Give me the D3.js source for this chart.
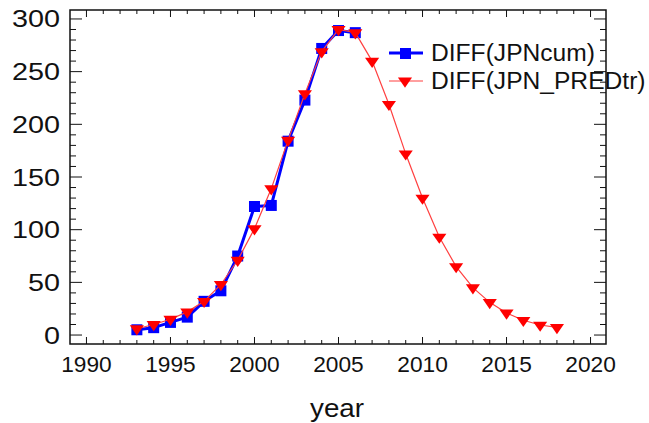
<!DOCTYPE html>
<html>
<head>
<meta charset="utf-8">
<script src="https://cdn.jsdelivr.net/npm/d3@7"></script>
<style>
  html, body { margin: 0; padding: 0; background: #fff; }
  svg { display: block; }
  text { font-family: "Liberation Sans", Arial, sans-serif; fill: #111; }
</style>
</head>
<body>
<svg id="chart" width="649" height="423"></svg>
<script>
// DIFF(JPNcum) vs DIFF(JPN_PREDtr) por año

const obsYears = [1993, 1994, 1995, 1996, 1997, 1998, 1999, 2000, 2001, 2002, 2003, 2004, 2005, 2006];
const obsValues = [5, 7, 12, 17, 32, 42, 75, 122, 123, 184, 223, 272, 289, 287];

const predYears = [1993, 1994, 1995, 1996, 1997, 1998, 1999, 2000, 2001, 2002, 2003, 2004, 2005,
  2006, 2007, 2008, 2009, 2010, 2011, 2012, 2013, 2014, 2015, 2016, 2017, 2018];
const predValues = [6, 10, 15, 22, 32, 48, 71, 101, 139, 185, 229, 269, 290,
  287, 260, 219, 172, 130, 93, 65, 45, 31, 21, 14, 9.5, 7.3];

const xTicks = [1990, 1995, 2000, 2005, 2010, 2015, 2020];
const yTicks = [0, 50, 100, 150, 200, 250, 300];
const seriesNames = ['DIFF(JPNcum)', 'DIFF(JPN_PREDtr)'];
const xTitle = 'year';

const BLUE = '#0000ff';
const RED = '#ff0000';

const svg = d3.select('#chart');
const L = 70, R = 606, T = 10, B = 344;

const x = d3.scaleLinear().domain([1989.02, 2020.92]).range([L, R]);
const y = d3.scaleLinear().domain([-8.5, 308.5]).range([B, T]);

// ticks (hacia adentro, en los cuatro lados)
const gT = svg.append('g').attr('stroke', '#111').attr('stroke-width', 1);
d3.range(1990, 2021).forEach(yr => {
  const major = yr % 5 === 0;
  const len = major ? 7 : 4;
  gT.append('line').attr('x1', x(yr)).attr('x2', x(yr)).attr('y1', B).attr('y2', B - len);
  gT.append('line').attr('x1', x(yr)).attr('x2', x(yr)).attr('y1', T).attr('y2', T + len);
});
d3.range(0, 301, 10).forEach(v => {
  const major = v % 50 === 0;
  const len = major ? 12 : 6;
  gT.append('line').attr('x1', L).attr('x2', L + len).attr('y1', y(v)).attr('y2', y(v));
  gT.append('line').attr('x1', R).attr('x2', R - len).attr('y1', y(v)).attr('y2', y(v));
});

// marco
svg.append('rect').attr('x', L).attr('y', T).attr('width', R - L).attr('height', B - T)
  .attr('fill', 'none').attr('stroke', '#111').attr('stroke-width', 1.5);

// etiquetas de ejes
svg.append('g').selectAll('text').data(yTicks).join('text')
  .attr('x', 60).attr('y', d => y(d) + 8.5)
  .attr('text-anchor', 'end')
  .style('font-size', '23px')
  .attr('textLength', d => String(d).length * 16)
  .attr('lengthAdjust', 'spacingAndGlyphs')
  .text(d => d);

svg.append('g').selectAll('text').data(xTicks).join('text')
  .attr('x', d => x(d)).attr('y', 372)
  .attr('text-anchor', 'middle')
  .style('font-size', '21.5px')
  .attr('textLength', 50.5)
  .attr('lengthAdjust', 'spacingAndGlyphs')
  .text(d => d);

svg.append('text').attr('x', 337).attr('y', 417)
  .attr('text-anchor', 'middle')
  .style('font-size', '26px')
  .attr('textLength', 54)
  .attr('lengthAdjust', 'spacingAndGlyphs')
  .text(xTitle);

// series
const obs = obsYears.map((yr, i) => ({ yr, v: obsValues[i] }));
const pred = predYears.map((yr, i) => ({ yr, v: predValues[i] }));
const line = d3.line().x(d => x(d.yr)).y(d => y(d.v));
const tri = d3.symbol().type(d3.symbolTriangle).size(60);

svg.append('path').datum(obs).attr('d', line)
  .attr('fill', 'none').attr('stroke', BLUE).attr('stroke-width', 3).attr('stroke-linejoin', 'round');
svg.append('g').selectAll('rect').data(obs).join('rect')
  .attr('x', d => x(d.yr) - 5.5).attr('y', d => y(d.v) - 5.5)
  .attr('width', 11).attr('height', 11).attr('fill', BLUE);

svg.append('path').datum(pred).attr('d', line)
  .attr('fill', 'none').attr('stroke', '#ff4040').attr('stroke-width', 1.2);
svg.append('g').selectAll('path').data(pred).join('path')
  .attr('d', tri)
  .attr('transform', d => `translate(${x(d.yr)},${y(d.v)}) rotate(180) scale(1.2,1)`)
  .attr('fill', RED);

// leyenda
const lg = svg.append('g');
lg.append('line').attr('x1', 389).attr('x2', 423).attr('y1', 53).attr('y2', 53)
  .attr('stroke', BLUE).attr('stroke-width', 3);
lg.append('rect').attr('x', 400).attr('y', 48).attr('width', 11).attr('height', 11).attr('fill', BLUE);
lg.append('line').attr('x1', 389).attr('x2', 423).attr('y1', 81).attr('y2', 81)
  .attr('stroke', '#ff4040').attr('stroke-width', 1.2);
lg.append('path').attr('d', tri).attr('transform', 'translate(405,81) rotate(180) scale(1.2,1)')
  .attr('fill', RED);
lg.selectAll('text').data(seriesNames).join('text')
  .attr('x', 431).attr('y', (d, i) => 61 + i * 27.5)
  .style('font-size', '24.6px')
  .text(d => d);
</script>
</body>
</html>
